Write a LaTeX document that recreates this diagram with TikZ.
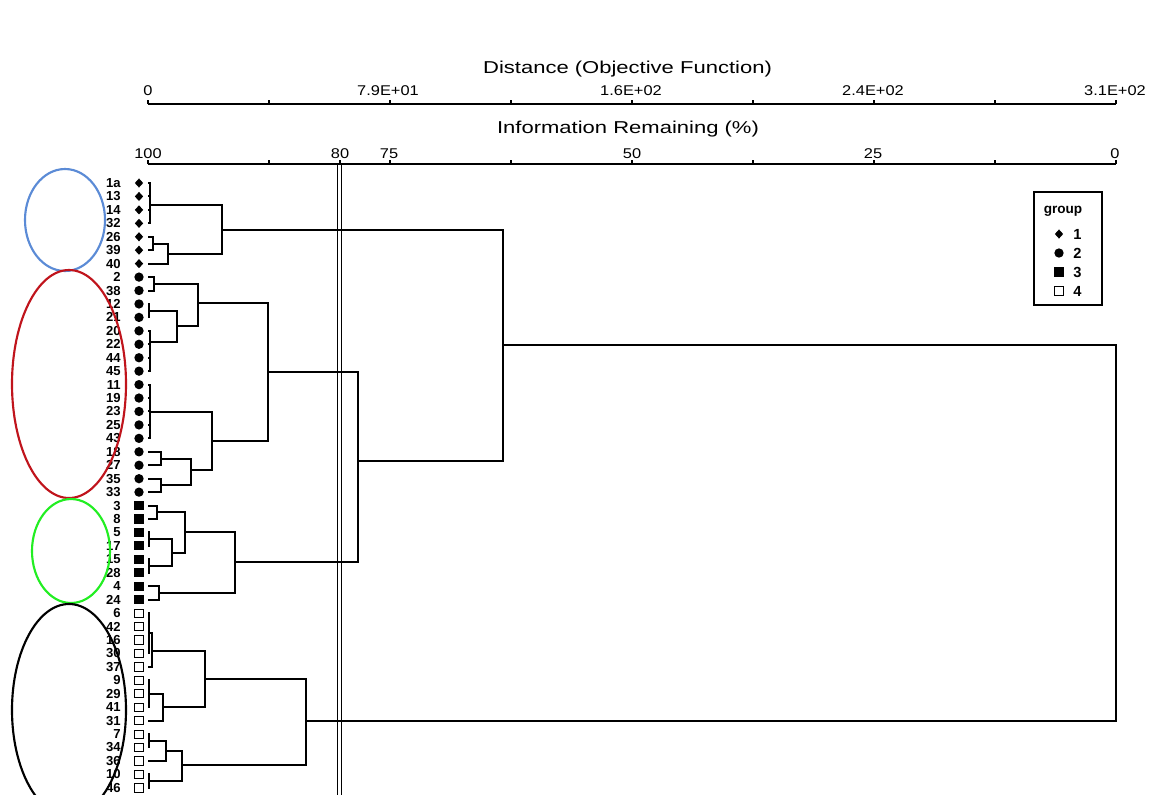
\documentclass[tikz,border=0pt]{standalone}
\usepackage{fontspec}
\usepackage{graphicx}
\setmainfont{Liberation Sans}
\usetikzlibrary{shapes.geometric}
\definecolor{cblue}{HTML}{5B8BD6}
\definecolor{cred}{HTML}{C0141C}
\definecolor{cgreen}{HTML}{22EE22}
\newcommand\dmerge[5]{\coordinate (#1) at (#2,#3); \draw[dl] (#4) -| (#1) |- (#5);}
\newcommand\dlink[2]{\draw[dl] (#1) -| (#2);}
\newcommand\ttlfont{\fontsize{12.9}{14}\selectfont}
\newcommand\tckfont{\fontsize{10.6}{12}\selectfont}
\tikzset{
  dl/.style={line width=1.5pt, line join=miter},
  ax/.style={line width=2.2pt},
  tck/.style={line width=1.5pt},
  leaflab/.style={anchor=east, inner sep=0pt, font=\fontsize{9.8}{10}\selectfont\bfseries},
  symd/.style={diamond, fill=black, inner sep=0pt, minimum width=6.4pt, minimum height=7pt},
  symc/.style={circle, fill=black, inner sep=0pt, minimum size=7pt},
  syms/.style={rectangle, fill=black, inner sep=0pt, minimum size=6.8pt},
  symo/.style={rectangle, draw=black, fill=white, line width=0.6pt, inner sep=0pt, minimum size=6.2pt},
  ticklab/.style={anchor=base, inner sep=0pt, font=\tckfont},
  ttl/.style={anchor=base, inner sep=0pt, font=\ttlfont},
  ell/.style={line width=1.6pt},
}
\begin{document}
\begin{tikzpicture}[x=0.75pt, y=-0.75pt]
\useasboundingbox (0,0) rectangle (1149,794);
\clip (0,0) rectangle (1149,794);
\fill[white] (0,0) rectangle (1149,794);

% titles
\node[ttl] (ttlA) at (627.5,73.3) {\scalebox{1.28}[1]{Distance (Objective Function)}};
\node[ttl] (ttlB) at (628,133.5) {\scalebox{1.28}[1]{Information Remaining (\%)}};

% top axis
\draw[ax] (148,104) -- (1116,104);
\foreach \k in {0,...,8} \draw[tck] ({148+121*\k},104) -- ++(0,-4.5);
\node[ticklab] (da0) at (148,95) {\scalebox{1.16}[1]{0}};
\node[ticklab] (da1) at (388,95) {\scalebox{1.16}[1]{7.9E+01}};
\node[ticklab] (da2) at (631,95) {\scalebox{1.16}[1]{1.6E+02}};
\node[ticklab] (da3) at (873,95) {\scalebox{1.16}[1]{2.4E+02}};
\node[ticklab] (da4) at (1115,95) {\scalebox{1.16}[1]{3.1E+02}};

% bottom axis
\draw[ax] (148,164) -- (1116,164);
\foreach \k in {0,...,8} \draw[tck] ({148+121*\k},164) -- ++(0,-4.5);
\draw[tck] (339.5,164) -- ++(0,-4.5);
\node[ticklab] (ia0) at (148,158) {\scalebox{1.16}[1]{100}};
\node[ticklab] (ia1) at (340,158) {\scalebox{1.16}[1]{80}};
\node[ticklab] (ia2) at (389,158) {\scalebox{1.16}[1]{75}};
\node[ticklab] (ia3) at (632,158) {\scalebox{1.16}[1]{50}};
\node[ticklab] (ia4) at (873,158) {\scalebox{1.16}[1]{25}};
\node[ticklab] (ia5) at (1115,158) {\scalebox{1.16}[1]{0}};

% cut line
\draw[line width=0.9pt] (337.6,165) -- (337.6,800);
\draw[line width=0.9pt] (341.2,165) -- (341.2,800);

% leaves
\foreach \lab/\s [count=\i from 0] in {1a/d,13/d,14/d,32/d,26/d,39/d,40/d,2/c,38/c,12/c,21/c,20/c,22/c,44/c,45/c,11/c,19/c,23/c,25/c,43/c,18/c,27/c,35/c,33/c,3/s,8/s,5/s,17/s,15/s,28/s,4/s,24/s,6/o,42/o,16/o,30/o,37/o,9/o,29/o,41/o,31/o,7/o,34/o,36/o,10/o,46/o}{
  \pgfmathsetmacro\yy{183+13.44*\i}
  \node[leaflab] (t\i) at (121,\yy) {\lab};
  \node[sym\s] (s\i) at (139,\yy) {};
  \coordinate (L\i) at (148,\yy);
}

% group 1
\dmerge{A1}{150}{205}{L0}{L3} \dlink{L1}{A1} \dlink{L2}{A1}
\dmerge{A2}{153}{243.5}{L4}{L5}
\dmerge{A3}{168}{253.5}{A2}{L6}
\dmerge{A4}{222}{230}{A1}{A3}
% group 2
\dmerge{B1}{154}{283.8}{L7}{L8}
\dmerge{B2}{149}{310.7}{L9}{L10}
\dmerge{B3}{150}{342}{L11}{L14} \dlink{L12}{B3} \dlink{L13}{B3}
\dmerge{B4}{177}{326}{B2}{B3}
\dmerge{B5}{198}{303}{B1}{B4}
\dmerge{C1}{150}{412}{L15}{L19} \dlink{L16}{C1} \dlink{L17}{C1} \dlink{L18}{C1}
\dmerge{C2}{161}{458.5}{L20}{L21}
\dmerge{C3}{161}{485.4}{L22}{L23}
\dmerge{C4}{191}{470}{C2}{C3}
\dmerge{C5}{212}{441}{C1}{C4}
\dmerge{D1}{268}{372}{B5}{C5}
% group 3
\dmerge{E1}{157}{512.3}{L24}{L25}
\dmerge{E2}{149}{539}{L26}{L27}
\dmerge{E3}{149}{566}{L28}{L29}
\dmerge{E4}{172}{552.5}{E2}{E3}
\dmerge{E5}{185}{532}{E1}{E4}
\dmerge{E6}{159}{593}{L30}{L31}
\dmerge{E7}{235}{562}{E5}{E6}
\dmerge{F1}{358}{461}{D1}{E7}
\dmerge{G1}{503}{345}{A4}{F1}
% group 4
\dmerge{H0}{149}{633}{L32}{L35} \dlink{L33}{H0} \dlink{L34}{H0}
\dmerge{H1}{152}{651}{H0}{L36}
\dmerge{H2}{149}{694}{L37}{L39} \dlink{L38}{H2}
\dmerge{H3}{163}{707}{H2}{L40}
\dmerge{H4}{205}{679}{H1}{H3}
\dmerge{I1}{149}{741}{L41}{L42}
\dmerge{I2}{166}{751}{I1}{L43}
\dmerge{I3}{149}{781}{L44}{L45}
\dmerge{I4}{182}{765}{I2}{I3}
\dmerge{J1}{306}{721}{H4}{I4}
\dmerge{R}{1116}{533}{G1}{J1}

% ellipses
\draw[ell, cblue] (65,220) ellipse [x radius=40, y radius=51];
\draw[ell, cred] (69,384) ellipse [x radius=57, y radius=114];
\draw[ell, cgreen] (71,551) ellipse [x radius=39, y radius=52];
\draw[ell, black] (69,710) ellipse [x radius=57, y radius=106];

% legend
\draw[line width=1.2pt] (1034,192) rectangle (1102,305);
\node[anchor=base, inner sep=0pt, font=\fontsize{10.2}{11}\selectfont\bfseries] (lgt) at (1063,213) {group};
\node[symd] (lg1) at (1059,234) {};
\node[symc] (lg2) at (1059,253) {};
\node[syms] (lg3) at (1059,272) {};
\node[symo] (lg4) at (1059,291) {};
\foreach \n/\yy in {1/234,2/253,3/272,4/291}
  \node[anchor=west, inner sep=0pt, font=\fontsize{11}{12}\selectfont\bfseries] (ln\n) at (1073,\yy) {\n};
\end{tikzpicture}
\end{document}
